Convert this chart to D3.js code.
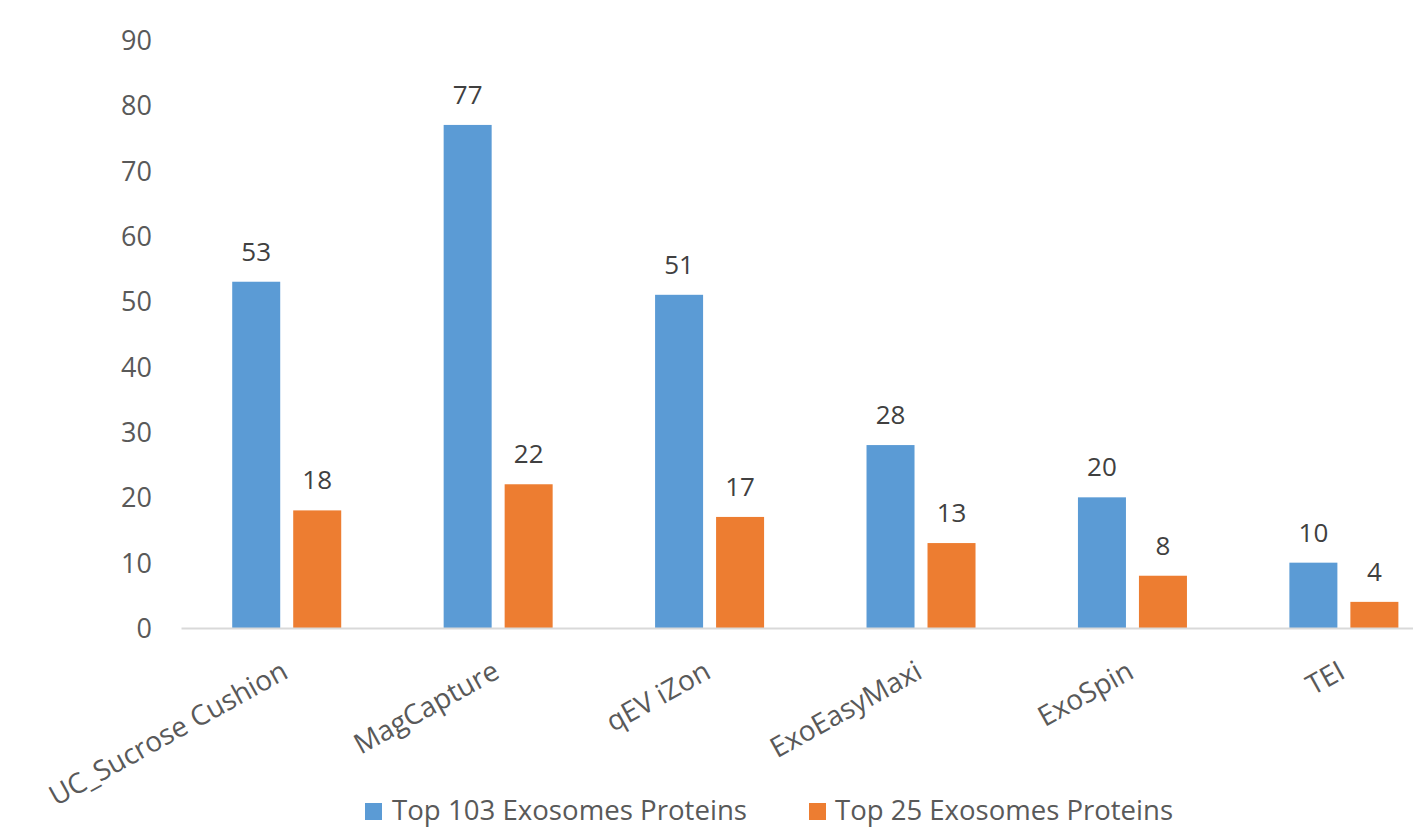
<!DOCTYPE html>
<html>
<head>
<meta charset="utf-8">
<script src="https://cdn.jsdelivr.net/npm/d3@7"></script>
<style>
  html, body { margin: 0; padding: 0; background: #fff; }
  svg { display: block; font-family: "Open Sans", sans-serif; }
</style>
</head>
<body>
<svg id="chart" width="1413" height="832"></svg>
<script>
const categories = ["UC_Sucrose Cushion", "MagCapture", "qEV iZon", "ExoEasyMaxi", "ExoSpin", "TEI"];
const seriesNames = ["Top 103 Exosomes Proteins", "Top 25 Exosomes Proteins"];
const top103 = [53, 77, 51, 28, 20, 10];
const top25 = [18, 22, 17, 13, 8, 4];
const yTicks = [0, 10, 20, 30, 40, 50, 60, 70, 80, 90];
const colors = ["#5B9BD5", "#ED7D31"];

const seriesValues = [top103, top25];
const svg = d3.select("#chart");

const x0 = d3.scaleBand().domain(categories).range([181, 1449.6]).padding(0);
const groupW = 109;
const x1 = d3.scaleBand().domain(seriesNames)
  .range([x0.bandwidth() / 2 - groupW / 2, x0.bandwidth() / 2 + groupW / 2])
  .paddingInner(0.213).paddingOuter(0);
const y = d3.scaleLinear().domain([0, 90]).range([628, 40]);

// Y axis labels
const yAxis = d3.axisLeft(y).tickValues(yTicks).tickSize(0).tickPadding(0);
const yg = svg.append("g").attr("transform", "translate(152,0)").call(yAxis);
yg.select(".domain").remove();
yg.selectAll("text")
  .attr("font-family", "'Open Sans', sans-serif")
  .attr("font-size", 27)
  .attr("fill", "#595959")
  .attr("dy", "0.35em");

// Bars
const groups = svg.append("g").selectAll("g")
  .data(categories)
  .join("g")
  .attr("transform", d => `translate(${x0(d)},0)`);

groups.selectAll("rect")
  .data((c, i) => seriesNames.map((s, k) => ({ s, v: seriesValues[k][i], k })))
  .join("rect")
  .attr("x", d => x1(d.s))
  .attr("width", x1.bandwidth())
  .attr("y", d => y(d.v))
  .attr("height", d => y(0) - y(d.v))
  .attr("fill", d => colors[d.k]);

groups.selectAll("text.val")
  .data((c, i) => seriesNames.map((s, k) => ({ s, v: seriesValues[k][i], k })))
  .join("text")
  .attr("class", "val")
  .attr("x", d => x1(d.s) + x1.bandwidth() / 2)
  .attr("y", d => y(d.v) - 21)
  .attr("text-anchor", "middle")
  .attr("font-size", 26)
  .attr("fill", "#404040")
  .text(d => d.v);

// X axis line
const xAxis = d3.axisBottom(x0).tickSize(0).tickFormat("");
const xg = svg.append("g").attr("transform", `translate(0,${y(0)})`).call(xAxis);
xg.select(".domain").attr("stroke", "#D9D9D9").attr("stroke-width", 2);

// Category labels
svg.append("g").selectAll("text")
  .data(categories)
  .join("text")
  .attr("transform", d => `translate(${x0(d) + x0.bandwidth() / 2 + 3},677) rotate(-29)`)
  .attr("text-anchor", "end")
  .attr("font-size", 28)
  .attr("fill", "#595959")
  .text(d => d);

// Legend
const legendItems = [
  { name: seriesNames[0], color: colors[0], sx: 365, tx: 392, len: 355 },
  { name: seriesNames[1], color: colors[1], sx: 809, tx: 835, len: 338 }
];
const lg = svg.append("g");
lg.selectAll("rect")
  .data(legendItems)
  .join("rect")
  .attr("x", d => d.sx)
  .attr("y", 803)
  .attr("width", 17)
  .attr("height", 17)
  .attr("fill", d => d.color);
lg.selectAll("text")
  .data(legendItems)
  .join("text")
  .attr("x", d => d.tx)
  .attr("y", 820)
  .attr("font-size", 27)
  .attr("fill", "#595959")
  .attr("textLength", d => d.len)
  .attr("lengthAdjust", "spacingAndGlyphs")
  .text(d => d.name);
</script>
</body>
</html>
